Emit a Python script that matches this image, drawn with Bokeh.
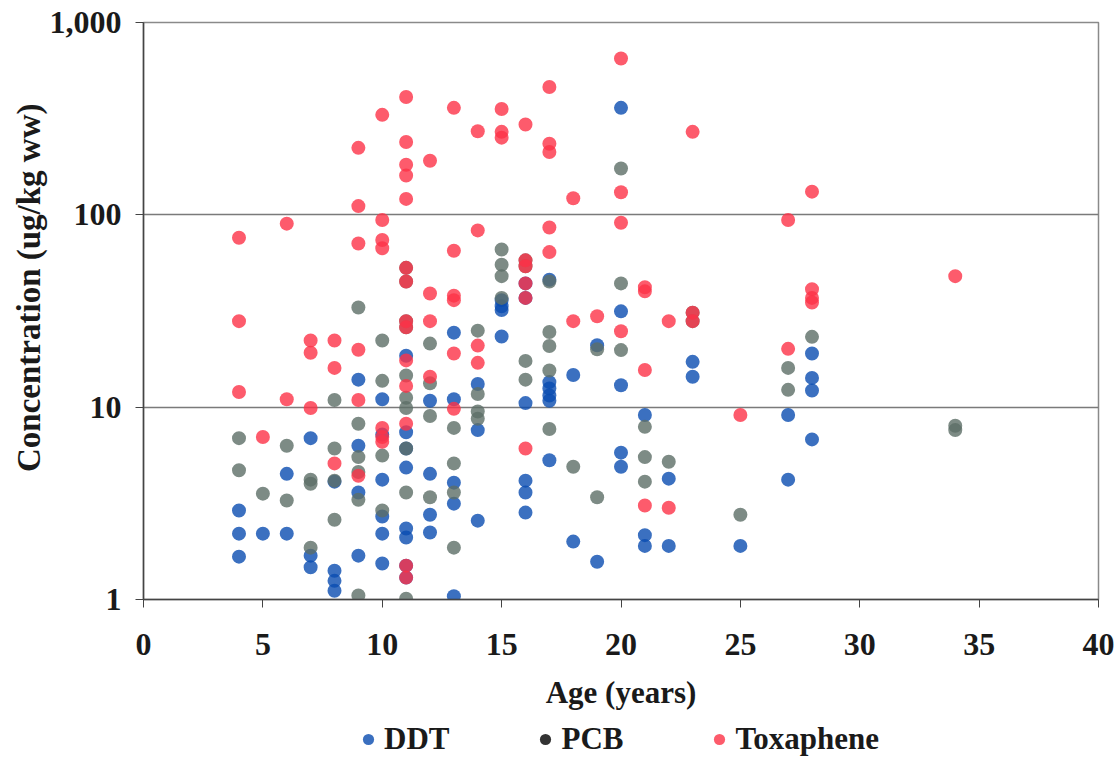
from bokeh.plotting import figure
from bokeh.layouts import column
from bokeh.models import (FixedTicker, NumeralTickFormatter, Title,
                          Legend, LegendItem, ColumnDataSource, Range1d)
from bokeh.embed import file_html
from bokeh.resources import INLINE

# ---------------- data ----------------
ddt_age = [4, 4, 4, 5, 6, 6, 7, 7, 7, 8, 8, 8, 8,
           9, 9, 9, 9,
           10, 10, 10, 10, 10, 10,
           11, 11, 11, 11, 11, 11, 11, 11,
           12, 12, 12, 12,
           13, 13, 13, 13, 13,
           14, 14, 14,
           15, 15, 15, 15,
           16, 16, 16, 16, 16, 16,
           17, 17, 17, 17, 17, 17,
           18, 18, 19, 19,
           20, 20, 20, 20, 20,
           21, 21, 21, 22, 22, 23, 23, 25, 27, 27,
           28, 28, 28, 28]
ddt_conc = [2.9, 2.2, 1.67, 2.2, 4.5, 2.2, 6.9, 1.69, 1.47, 4.1, 1.41, 1.25, 1.11,
            13.9, 6.3, 3.6, 1.69,
            11.0, 7.2, 4.2, 2.7, 2.2, 1.54,
            18.5, 7.4, 6.1, 4.85, 2.34, 2.1, 1.5, 1.3,
            10.8, 4.5, 2.76, 2.23,
            24.4, 11.0, 4.05, 3.15, 1.04,
            13.2, 7.6, 2.57,
            36.0, 33.5, 32.0, 23.3,
            44.0, 37.0, 10.5, 4.15, 3.6, 2.83,
            46.0, 13.5, 12.5, 11.5, 10.8, 5.3,
            14.7, 2.0, 21.0, 1.57,
            360.0, 31.5, 13.0, 5.8, 4.9,
            9.1, 2.16, 1.9, 4.25, 1.9, 17.2, 14.4, 1.9, 9.1, 4.2,
            19.0, 14.2, 12.2, 6.8]

pcb_age = [4, 4, 5, 6, 6, 7, 7, 7, 8, 8, 8, 8,
           9, 9, 9, 9, 9, 9,
           10, 10, 10, 10,
           11, 11, 11, 11, 11, 11, 11, 11, 11, 11,
           12, 12, 12, 12,
           13, 13, 13, 13,
           14, 14, 14, 14,
           15, 15, 15, 15,
           16, 16, 16, 16,
           17, 17, 17, 17, 17,
           18, 19, 19, 20, 20, 20,
           21, 21, 21, 22, 23, 23, 25, 27, 27, 28, 34, 34]
pcb_conc = [6.9, 4.7, 3.55, 6.3, 3.27, 4.2, 4.0, 1.86, 10.9, 6.1, 4.15, 2.6,
            33.0, 8.2, 5.5, 4.6, 3.3, 1.05,
            22.2, 13.7, 5.6, 2.9,
            53.0, 45.0, 28.0, 26.0, 14.6, 11.2, 9.9, 6.1, 3.6, 1.01,
            21.4, 13.3, 9.0, 3.4,
            7.8, 5.1, 3.6, 1.86,
            25.0, 11.7, 9.5, 8.7,
            66.0, 55.0, 48.0, 37.0,
            58.0, 54.0, 17.4, 13.9,
            45.0, 24.6, 20.8, 15.5, 7.7,
            4.9, 20.0, 3.4, 174.0, 44.0, 19.8,
            7.9, 5.5, 4.1, 5.2, 31.0, 28.0, 2.76, 16.0, 12.3, 23.2, 8.0, 7.6]

tox_age = [4, 4, 4, 5, 6, 6, 7, 7, 7, 8, 8, 8,
           9, 9, 9, 9, 9, 9,
           10, 10, 10, 10, 10, 10, 10,
           11, 11, 11, 11, 11, 11, 11, 11, 11, 11, 11, 11, 11, 11,
           12, 12, 12, 12,
           13, 13, 13, 13, 13, 13,
           14, 14, 14, 14,
           15, 15, 15,
           16, 16, 16, 16, 16, 16,
           17, 17, 17, 17, 17,
           18, 18, 19, 20, 20, 20, 20,
           21, 21, 21, 21, 22, 22, 23, 23, 23, 25, 27, 27,
           28, 28, 28, 28, 34]
tox_conc = [76.0, 28.0, 12.0, 7.0, 90.0, 11.0, 22.2, 19.2, 9.9, 22.2, 16.0, 5.1,
            223.0, 111.0, 71.0, 19.9, 10.9, 4.4,
            331.0, 94.0, 74.0, 67.0, 7.8, 7.0, 6.6,
            410.0, 239.0, 182.0, 160.0, 121.0, 53.0, 45.0, 28.0, 26.0, 17.5, 12.9, 8.2, 1.5, 1.3,
            191.0, 39.0, 28.0, 14.4,
            360.0, 65.0, 38.0, 36.0, 19.0, 9.8,
            272.0, 83.0, 20.9, 17.0,
            355.0, 270.0, 252.0,
            295.0, 58.0, 54.0, 44.0, 37.0, 6.1,
            462.0, 234.0, 212.0, 86.0, 64.0,
            122.0, 28.0, 29.7, 650.0, 131.0, 91.0, 24.8,
            42.0, 40.0, 15.6, 3.08, 28.0, 3.0, 270.0, 31.0, 28.0, 9.1, 94.0, 20.1,
            132.0, 41.0, 37.0, 35.0, 48.0]

series_names = ["DDT", "PCB", "Toxaphene"]
x_ticks = [0, 5, 10, 15, 20, 25, 30, 35, 40]
y_ticks = [1, 10, 100, 1000]

# ---------------- styling ----------------
FONT = "Liberation Serif"
colors = ["#0a4cb0", "#5c6e66", "#fc3247"]
legend_colors = ["#3a6fbf", "#333333", "#fd5b6b"]

p = figure(width=1118, height=719, x_range=(0, 40), y_range=(1, 1000),
           y_axis_type="log", output_backend="svg", toolbar_location=None,
           min_border_left=143, min_border_right=20, min_border_top=22,
           min_border_bottom=120, background_fill_color="white",
           border_fill_color="white")

sources = [(ddt_age, ddt_conc), (pcb_age, pcb_conc), (tox_age, tox_conc)]
for (ax, ay), c in zip(sources, colors):
    src = ColumnDataSource(dict(x=ax, y=ay))
    p.scatter("x", "y", source=src, size=14, fill_color=c, fill_alpha=0.8,
              line_color=None)

# axes
p.xaxis.ticker = FixedTicker(ticks=x_ticks)
p.yaxis.ticker = FixedTicker(ticks=y_ticks)
p.yaxis.formatter = NumeralTickFormatter(format="0,0")

for ax in (p.xaxis, p.yaxis):
    ax.axis_line_color = "#444444"
    ax.axis_line_width = 1.5
    ax.major_tick_line_color = "#444444"
    ax.major_tick_out = 8
    ax.major_tick_in = 0
    ax.minor_tick_line_color = None
    ax.major_label_text_font = FONT
    ax.major_label_text_font_style = "bold"
    ax.major_label_text_font_size = "32px"
    ax.major_label_text_color = "#1a1a1a"
    ax.axis_label_text_font = FONT
    ax.axis_label_text_font_style = "bold"
    ax.axis_label_text_font_size = "31px"
    ax.axis_label_text_color = "#1a1a1a"

p.xaxis.axis_label = "Age (years)"
p.xaxis.major_label_standoff = 26
p.xaxis.axis_label_standoff = 17
p.yaxis.major_label_standoff = 14

# y-axis title placed as a side title so it can sit slightly above centre
ytitle = Title(text="Concentration (ug/kg ww)", align="right", offset=81,
               text_font=FONT, text_font_style="bold", text_font_size="33px",
               text_color="#1a1a1a", standoff=0)
p.add_layout(ytitle, "left")

p.xgrid.visible = False
p.ygrid.ticker = FixedTicker(ticks=[10, 100])
p.ygrid.grid_line_color = "#7a7a7a"
p.ygrid.grid_line_width = 1.5

p.outline_line_color = "#8a8a8a"
p.outline_line_width = 1.5

# ---------------- legend strip (separate small figure) ----------------
lg = figure(width=1118, height=40, output_backend="svg", toolbar_location=None,
            x_axis_type=None, y_axis_type=None, min_border=0,
            x_range=Range1d(0, 1), y_range=Range1d(0, 1),
            outline_line_color=None, background_fill_color="white",
            border_fill_color="white")
lg.grid.visible = False
items = []
for name, c in zip(series_names, legend_colors):
    r = lg.scatter([-10], [-10], size=11, fill_color=c, line_color=None)
    items.append(LegendItem(label=name, renderers=[r]))

legend = Legend(items=items, orientation="horizontal", location=(211, 2),
                border_line_color=None, background_fill_alpha=0,
                label_text_font=FONT, label_text_font_style="bold",
                label_text_font_size="31px", label_text_color="#1a1a1a",
                glyph_width=28, glyph_height=28, label_standoff=2,
                spacing=82, padding=0, margin=0)
lg.add_layout(legend)

layout = column(p, lg, spacing=0)
open("out.html", "w").write(file_html(layout, INLINE))
